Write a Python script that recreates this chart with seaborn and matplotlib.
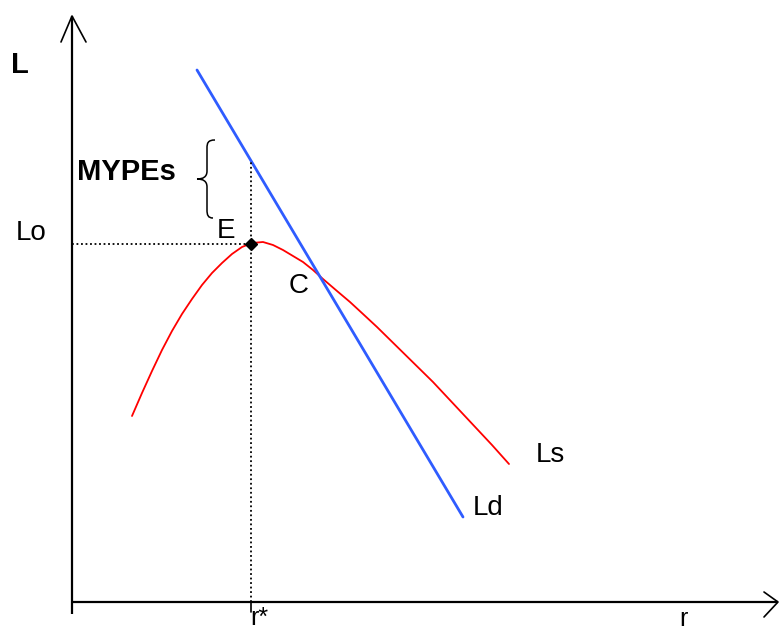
import numpy as np
import pandas as pd
import matplotlib
matplotlib.use("Agg")
import matplotlib.pyplot as plt
import seaborn as sns
from matplotlib.path import Path
from matplotlib.patches import PathPatch

sns.set_style("white")
plt.rcParams['font.family'] = ['Liberation Sans', 'DejaVu Sans']
plt.rcParams['text.color'] = 'black'

# ---- data (r = interest rate, L = loans), schematic units ----
ls_r = [60, 70, 80, 90, 100, 110, 120, 130, 140, 150, 160, 170, 180,
        191, 201, 211, 221, 231, 241, 251, 265, 278, 291, 305, 361, 420, 437]
ls_L = [186, 209, 231, 252, 271, 288, 303, 317, 329, 339, 348, 355, 359,
        360, 357, 352, 346, 340, 332, 323, 311, 300, 288, 275, 220, 157, 138]
ld_r = [125, 391]
ld_L = [532, 85]
r_star = 179
L_o = 358
L_d_at_rstar = 442
brace_top, brace_bot = 462, 384

fig = plt.figure(figsize=(7.79, 6.30), dpi=100)
ax = fig.add_axes([0, 0, 1, 1])

# curves
ls_df = pd.DataFrame({"r": ls_r, "L": ls_L})
ld_df = pd.DataFrame({"r": ld_r, "L": ld_L})
sns.lineplot(data=ls_df, x="r", y="L", ax=ax, color="#ff0000", lw=1.3, sort=False, estimator=None)
sns.lineplot(data=ld_df, x="r", y="L", ax=ax, color="#2f5cff", lw=2.0, sort=False, estimator=None)
ax.set_xlim(-72, 707)
ax.set_ylim(-28, 602)
ax.axis("off")

# axes with arrows
k = dict(color="black", lw=1.6, solid_capstyle="butt")
ax.plot([0, 0], [-12, 586], **k)
ax.plot([0, 706], [0, 0], **k)
ax.plot([-11, 0, 14], [560, 586, 560], color="black", lw=1.2)
ax.plot([692, 706, 692], [10, 0, -15], color="black", lw=1.2)
ax.plot([r_star, r_star], [-10, 0], color="black", lw=1.2)

# dotted guides
dot = dict(color="black", lw=1.3, linestyle=(0, (1, 1.5)))
ax.plot([0, r_star], [L_o, L_o], **dot)
ax.plot([r_star, r_star], [0, L_d_at_rstar], **dot)

# equilibrium point
ax.plot([r_star], [L_o], marker="D", color="black", markersize=6, zorder=5)

# curly brace
xb, w, h = 135, 10, 8
mid = (brace_top + brace_bot) / 2
verts = [
    (xb + 8, brace_top), (xb + 1, brace_top), (xb, brace_top - 3), (xb, brace_top - h),
    (xb, mid + 8),
    (xb, mid + 2), (xb - 4, mid), (xb - w, mid),
    (xb - 4, mid), (xb, mid - 2), (xb, mid - 8),
    (xb, brace_bot + h),
    (xb, brace_bot + 3), (xb + 1, brace_bot), (xb + 6, brace_bot),
]
codes = [Path.MOVETO, Path.CURVE4, Path.CURVE4, Path.CURVE4,
         Path.LINETO,
         Path.CURVE4, Path.CURVE4, Path.CURVE4,
         Path.CURVE4, Path.CURVE4, Path.CURVE4,
         Path.LINETO,
         Path.CURVE4, Path.CURVE4, Path.CURVE4]
ax.add_patch(PathPatch(Path(verts, codes), facecolor="none", edgecolor="black", lw=1.1))

# texts
fs = 20
ax.text(-52, 537, "L", fontsize=21, fontweight="bold", ha="center", va="center")
ax.text(5, 430, "MYPEs", fontsize=21, fontweight="bold", ha="left", va="center")
ax.text(-41, 369, "Lo", fontsize=fs, ha="center", va="center")
ax.text(154, 371, "E", fontsize=fs, ha="center", va="center")
ax.text(227, 316, "C", fontsize=fs, ha="center", va="center")
ax.text(464, 147, "Ls", fontsize=fs, ha="left", va="center")
ax.text(401, 94, "Ld", fontsize=fs, ha="left", va="center")
ax.text(178, -4, "r*", fontsize=18, ha="left", va="top")
ax.text(611, -5, "r", fontsize=18, ha="center", va="top")

fig.savefig("out.png", dpi=100)
